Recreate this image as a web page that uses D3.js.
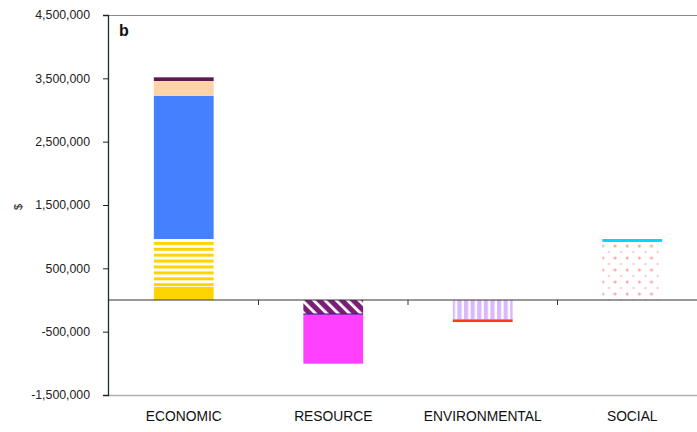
<!DOCTYPE html>
<html><head><meta charset="utf-8">
<script src="https://cdn.jsdelivr.net/npm/d3@7"></script>
<style>body{margin:0;background:#fff}svg{display:block;font-family:"Liberation Sans",Arial,sans-serif}</style>
</head><body>
<svg id="c" width="697" height="432"></svg>
<script>
const categories = ["ECONOMIC","RESOURCE","ENVIRONMENTAL","SOCIAL"];
const seriesKeys = ["econSolid","econStripe","econBlue","econPeach","econPurple","resHatch","resMagenta","envStripe","envRed","socDots","socCyan"];
const econSolid  = [210000, 0, 0, 0];
const econStripe = [753000, 0, 0, 0];
const econBlue   = [2263000, 0, 0, 0];
const econPeach  = [232000, 0, 0, 0];
const econPurple = [58000, 0, 0, 0];
const resHatch   = [0, -221000, 0, 0];
const resMagenta = [0, -785000, 0, 0];
const envStripe  = [0, 0, -306000, 0];
const envRed     = [0, 0, -42000, 0];
const socDots    = [0, 0, 0, 916000];
const socCyan    = [0, 0, 0, 47000];
const yTicks = [4500000,3500000,2500000,1500000,500000,-500000,-1500000];
const yLabel = "$";
const panelLabel = "b";

const seriesValues = {econSolid,econStripe,econBlue,econPeach,econPurple,resHatch,resMagenta,envStripe,envRed,socDots,socCyan};
const fills = {
  econSolid:"#FFD400", econStripe:"url(#pStripeH)", econBlue:"#4480FF", econPeach:"#FFD3A8",
  econPurple:"#5C1A52", resHatch:"url(#pDiag)", resMagenta:"#FF40FF",
  envStripe:"url(#pStripeV)", envRed:"#FF3A1A", socDots:"url(#pDots)", socCyan:"#00D8FF"
};

const svg = d3.select("#c");
const defs = svg.append("defs");
let p = defs.append("pattern").attr("id","pStripeH").attr("patternUnits","userSpaceOnUse").attr("width",8).attr("height",5.9);
p.append("rect").attr("width",8).attr("height",5.9).attr("fill","#fff");
p.append("rect").attr("y",0).attr("width",8).attr("height",3).attr("fill","#FFD400");
p = defs.append("pattern").attr("id","pDiag").attr("patternUnits","userSpaceOnUse").attr("width",8).attr("height",8).attr("patternTransform","rotate(-45)");
p.append("rect").attr("width",8).attr("height",8).attr("fill","#7B1E78");
p.append("rect").attr("x",0).attr("width",2.8).attr("height",8).attr("fill","#fff");
p = defs.append("pattern").attr("id","pStripeV").attr("patternUnits","userSpaceOnUse").attr("width",6.6).attr("height",10).attr("x",2);
p.append("rect").attr("width",6.6).attr("height",10).attr("fill","#D9B8FF");
p.append("rect").attr("x",4.2).attr("width",2.4).attr("height",10).attr("fill","#fff");
p = defs.append("pattern").attr("id","pDots").attr("patternUnits","userSpaceOnUse").attr("width",12.2).attr("height",12).attr("x",3).attr("y",4);
p.append("rect").attr("width",12.2).attr("height",12).attr("fill","#fff");
p.append("circle").attr("cx",2).attr("cy",2).attr("r",1.5).attr("fill","#FFA8A8");
p.append("circle").attr("cx",8.1).attr("cy",8).attr("r",1.1).attr("fill","#FFBCBC");

const mLeft = 108, mTop = 15, mBottom = 395;
const bandW = 149.5;
const x = d3.scaleBand().domain(categories).range([mLeft + 1, mLeft + 1 + bandW*categories.length]).paddingInner(0.6).paddingOuter(0.3);
const y = d3.scaleLinear().domain([-1500000, 4500000]).range([mBottom, mTop]);

svg.append("line").attr("x1",mLeft).attr("x2",697).attr("y1",mTop+0.5).attr("y2",mTop+0.5).attr("stroke","#8a8a8a").attr("stroke-width",1.2);
svg.append("line").attr("x1",mLeft).attr("x2",697).attr("y1",mBottom+0.5).attr("y2",mBottom+0.5).attr("stroke","#b0b0b0").attr("stroke-width",1.4);

const table = categories.map((c,i)=>{const o={cat:c}; seriesKeys.forEach(k=>o[k]=seriesValues[k][i]); return o;});
const stack = d3.stack().keys(seriesKeys).offset(d3.stackOffsetDiverging)(table);

svg.append("g").selectAll("g").data(stack).join("g").attr("fill",d=>fills[d.key])
  .selectAll("rect").data(d=>d.filter(e=>e[1]-e[0]!==0)).join("rect")
  .attr("x",d=>x(d.data.cat)).attr("width",x.bandwidth())
  .attr("y",d=>y(Math.max(d[0],d[1]))).attr("height",d=>Math.abs(y(d[0])-y(d[1])));

svg.append("line").attr("x1",x("RESOURCE")).attr("x2",x("RESOURCE")+x.bandwidth())
  .attr("y1",y(resHatch[1])).attr("y2",y(resHatch[1])).attr("stroke","#1a2a8a").attr("stroke-width",1);

const zg = svg.append("g").attr("transform",`translate(0,${y(0)})`);
zg.append("line").attr("x1",mLeft).attr("x2",697).attr("stroke","#333").attr("stroke-width",1.2);
zg.selectAll("line.t").data(categories.slice(1)).join("line").attr("class","t")
  .attr("x1",d=>x(d)-x.step()*x.paddingInner()/2).attr("x2",d=>x(d)-x.step()*x.paddingInner()/2)
  .attr("y1",0).attr("y2",5).attr("stroke","#333");

svg.append("g").selectAll("text").data(categories).join("text")
  .attr("x",d=>x(d)+x.bandwidth()/2).attr("y",421).attr("text-anchor","middle")
  .attr("font-size",13.8).attr("fill","#111").text(d=>d);

const fmt = d3.format(",.0f");
const yAxis = d3.axisLeft(y).tickValues(yTicks).tickSize(5).tickPadding(13).tickFormat(d=>fmt(d).replace("\u2212","-"));
const yg = svg.append("g").attr("transform",`translate(${mLeft},0)`).call(yAxis);
yg.select(".domain").attr("stroke","#1e2e30").attr("stroke-width",1.3);
yg.selectAll(".tick line").attr("stroke","#222");
yg.selectAll("text").attr("font-size",12.3).attr("fill","#222").attr("font-family","Liberation Sans, Arial, sans-serif");

svg.append("text").attr("transform","translate(22,207) rotate(-90)").attr("text-anchor","middle")
  .attr("font-size",11).attr("fill","#222").text(yLabel);
svg.append("text").attr("x",119).attr("y",36).attr("font-size",16).attr("font-weight","bold").attr("fill","#111").text(panelLabel);
</script>
</body></html>
